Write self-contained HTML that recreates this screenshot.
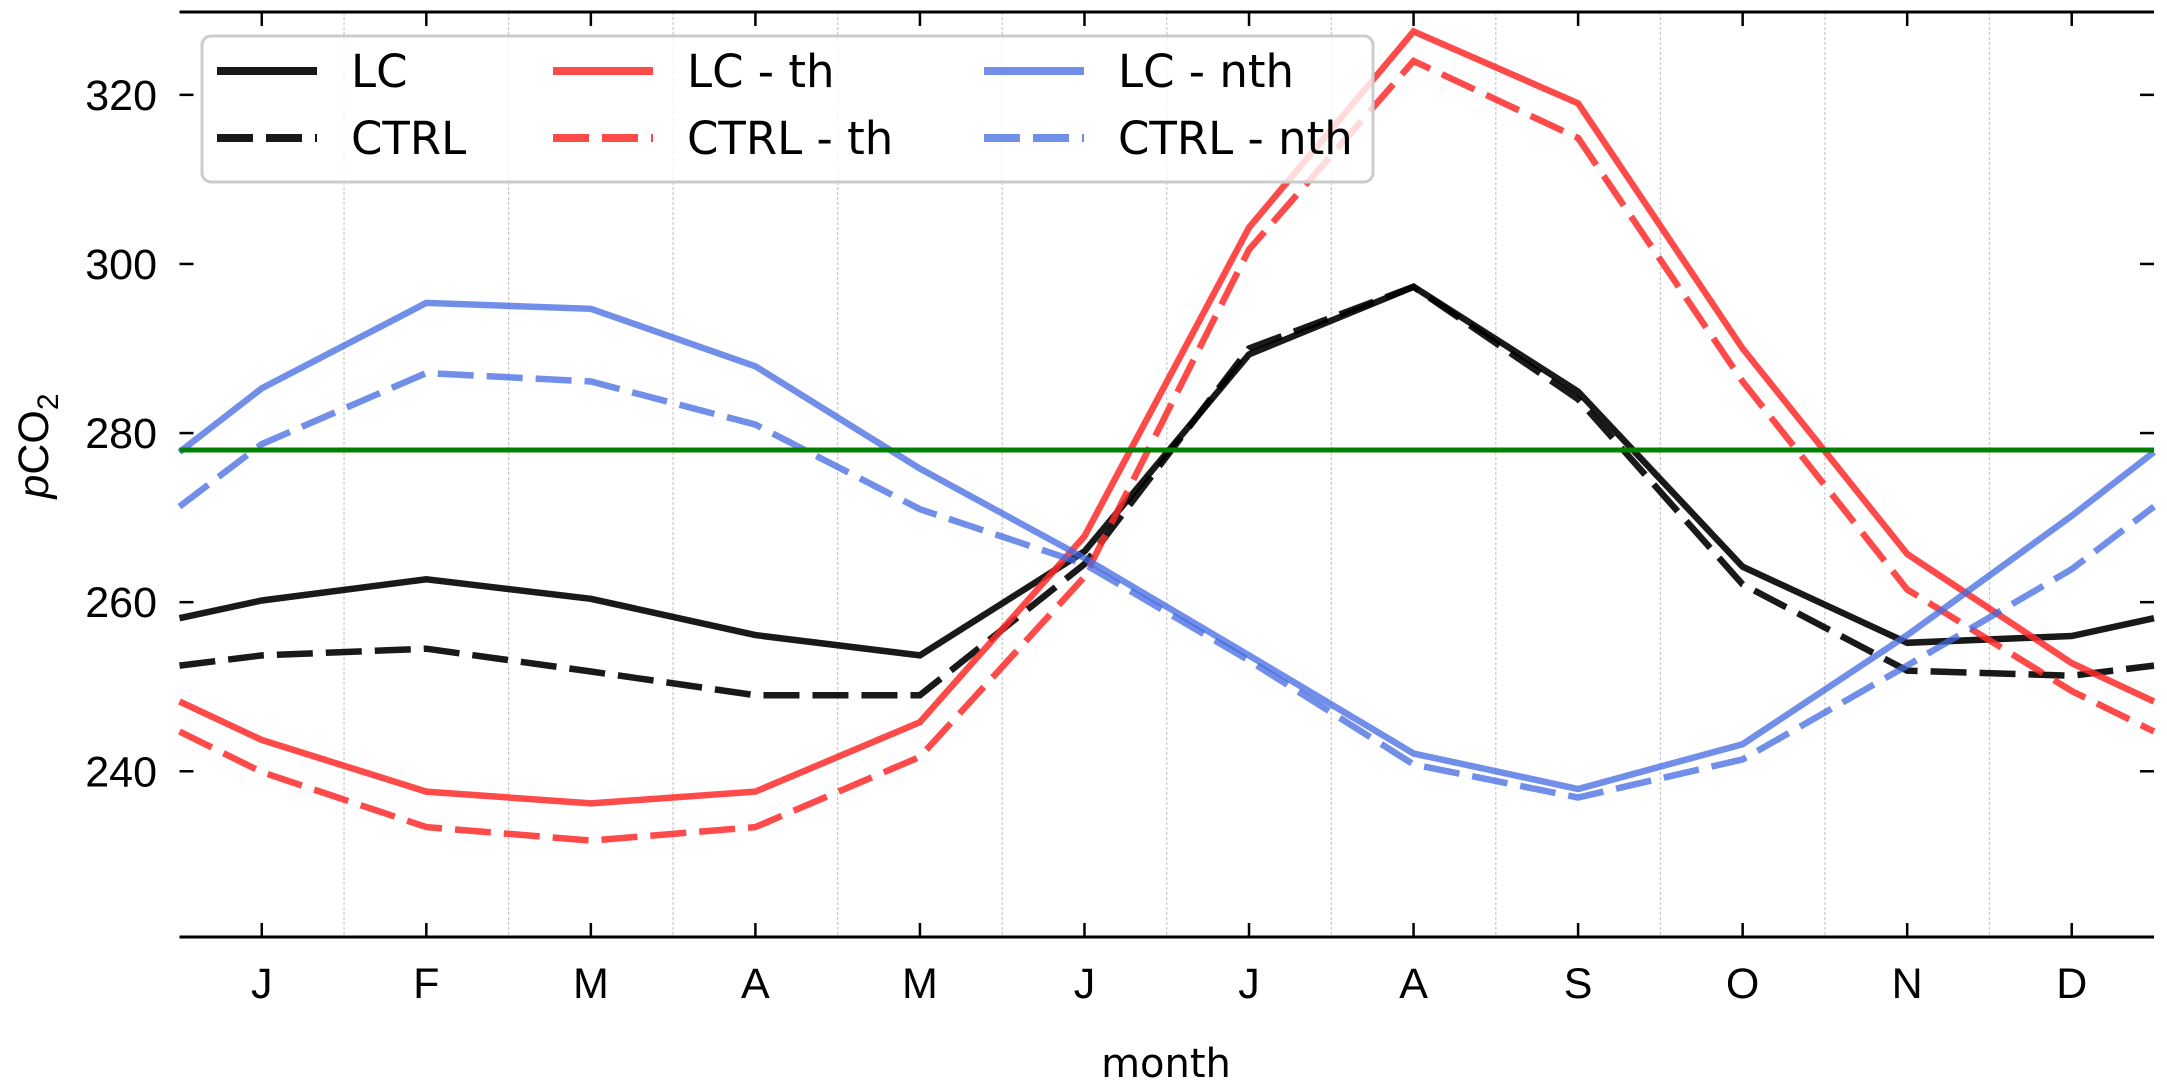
<!DOCTYPE html>
<html><head><meta charset="utf-8"><style>
html,body{margin:0;padding:0;background:#fff;}
svg{display:block;font-family:"Liberation Sans",Arial,sans-serif;}
</style></head><body>
<svg id="chart" width="2167" height="1086" viewBox="0 0 2167 1086" xmlns="http://www.w3.org/2000/svg">
<g id="grid"></g>
<g id="series"></g>
<g id="axes"></g>
<g id="legend"></g>
</svg>
<script>
const months = ["J","F","M","A","M","J","J","A","S","O","N","D"];
const yTicks = [240,260,280,300,320];
const refLevel = 278;
const lcValues = [260.2,262.7,260.4,256.1,253.7,266,289.3,297.3,284.9,264.2,255.2,256];
const ctrlValues = [253.7,254.5,251.8,249,249,264.5,290,297.3,284,262.1,251.9,251.3];
const lcThValues = [243.7,237.6,236.2,237.6,245.8,267.8,304.3,327.5,319,290,265.7,252.8];
const ctrlThValues = [239.9,233.4,231.8,233.4,241.7,263,301.7,324,314.9,286.1,261.5,249.5];
const lcNthValues = [285.3,295.4,294.7,287.9,275.8,265.2,253.7,242.1,237.9,243.2,256.1,270.2];
const ctrlNthValues = [278.7,287.1,286.1,281,271,264.5,253.1,240.8,236.9,241.4,252.5,263.9];

const NS="http://www.w3.org/2000/svg";
const X0=179.5, X1=2154, Y0=937, Y1=12;
const xMin=-0.5, xMax=11.5, yMin=220.4, yMax=329.8;
const DASH='36,13';
function xs(i){return X0+(i-xMin)/(xMax-xMin)*(X1-X0);}
function ys(v){return Y0-(v-yMin)/(yMax-yMin)*(Y0-Y1);}
function mk(tag,attrs,parent){const e=document.createElementNS(NS,tag);for(const k in attrs)e.setAttribute(k,attrs[k]);parent.appendChild(e);return e;}

const gridG=document.getElementById('grid');
for(let i=0;i<11;i++){
  const l=mk('line',{x1:xs(i+0.5),x2:xs(i+0.5),y1:Y1,y2:Y0,stroke:'#c8c8c8','stroke-width':1.2,'stroke-dasharray':'3,2'},gridG);
  
  
}

const serG=document.getElementById('series');
function drawSeries(vals,color,op,dash,name){
  const ends=(vals[0]+vals[11])/2;
  let pts=[[xs(-0.5),ys(ends)]];
  vals.forEach((v,i)=>pts.push([xs(i),ys(v)]));
  pts.push([xs(11.5),ys(ends)]);
  const p=mk('polyline',{points:pts.map(p=>p[0].toFixed(1)+','+p[1].toFixed(1)).join(' '),fill:'none',stroke:color,'stroke-opacity':op,'stroke-width':6.5,'stroke-linejoin':'miter'},serG);
  if(dash)p.setAttribute('stroke-dasharray',dash);
  
  
}
drawSeries(lcValues,'#000',0.9,null,'series-lc');
drawSeries(ctrlValues,'#000',0.9,DASH,'series-ctrl');
drawSeries(lcThValues,'#ff2a2a',0.85,null,'series-lc-th');
drawSeries(ctrlThValues,'#ff2a2a',0.85,DASH,'series-ctrl-th');
drawSeries(lcNthValues,'#4169e1',0.75,null,'series-lc-nth');
drawSeries(ctrlNthValues,'#4169e1',0.75,DASH,'series-ctrl-nth');
const refLine=mk('line',{x1:X0,x2:X1,y1:ys(refLevel),y2:ys(refLevel),stroke:'#008000','stroke-width':5},serG);



const axG=document.getElementById('axes');
const topSpine=mk('line',{x1:X0,x2:X1,y1:Y1,y2:Y1,stroke:'#000','stroke-width':3},axG);


const botSpine=mk('line',{x1:X0,x2:X1,y1:Y0,y2:Y0,stroke:'#000','stroke-width':3},axG);


months.forEach((m,i)=>{
  const x=xs(i);
  mk('line',{x1:x,x2:x,y1:Y0,y2:Y0-14,stroke:'#000','stroke-width':2.5},axG);
  mk('line',{x1:x,x2:x,y1:Y1,y2:Y1+14,stroke:'#000','stroke-width':2.5},axG);
  const t=mk('text',{x:x,y:998,'text-anchor':'middle','font-size':43,fill:'#000'},axG);
  t.textContent=m;
  
  
});
yTicks.forEach(v=>{
  const y=ys(v);
  mk('line',{x1:X0,x2:X0+14,y1:y,y2:y,stroke:'#000','stroke-width':2.5},axG);
  mk('line',{x1:X1-14,x2:X1,y1:y,y2:y,stroke:'#000','stroke-width':2.5},axG);
  const t=mk('text',{x:157,y:y+15,'text-anchor':'end','font-size':43,fill:'#000'},axG);
  t.textContent=v;
  
  
});
const xl=mk('text',{x:1166,y:1077,'text-anchor':'middle','font-size':40,fill:'#000','font-family':'DejaVu Sans, sans-serif'},axG);
xl.textContent='month';


const yl=mk('text',{transform:'translate(48,446) rotate(-90)','text-anchor':'middle','font-size':43,fill:'#000'},axG);
yl.innerHTML='<tspan font-style="italic">p</tspan>CO<tspan font-size="30" dy="10">2</tspan>';



const lgG=document.getElementById('legend');
const legendBox=mk('rect',{x:202,y:36,width:1171,height:146,rx:9,fill:'#fff','fill-opacity':0.8,stroke:'#cccccc','stroke-width':3},lgG);


const entries=[
 {label:'LC',c:'#000',o:0.9,d:null,hx:217,tx:351,y:71},
 {label:'CTRL',c:'#000',o:0.9,d:DASH,hx:217,tx:351,y:138},
 {label:'LC - th',c:'#ff2a2a',o:0.85,d:null,hx:553,tx:687,y:71},
 {label:'CTRL - th',c:'#ff2a2a',o:0.85,d:DASH,hx:553,tx:687,y:138},
 {label:'LC - nth',c:'#4169e1',o:0.75,d:null,hx:984,tx:1118,y:71},
 {label:'CTRL - nth',c:'#4169e1',o:0.75,d:DASH,hx:984,tx:1118,y:138}
];
entries.forEach(e=>{
  const g=mk('g',{},lgG);
  
  
  const l=mk('line',{x1:e.hx,x2:e.hx+100,y1:e.y,y2:e.y,stroke:e.c,'stroke-opacity':e.o,'stroke-width':8},g);
  if(e.d)l.setAttribute('stroke-dasharray',e.d);
  const t=mk('text',{x:e.tx,y:e.y+16,'font-size':45,fill:'#000','font-family':'DejaVu Sans, sans-serif'},g);
  t.textContent=e.label;
});
</script>
</body></html>
